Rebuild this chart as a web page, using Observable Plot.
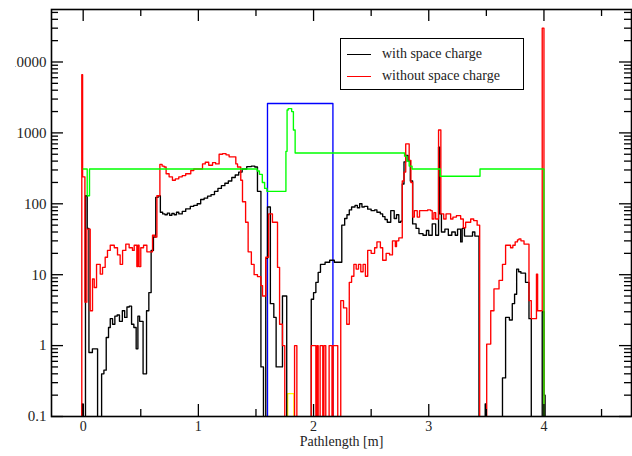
<!DOCTYPE html>
<html><head><meta charset="utf-8">
<script src="https://cdn.jsdelivr.net/npm/d3@7"></script>
<script src="https://cdn.jsdelivr.net/npm/@observablehq/plot@0.6"></script>
<style>
html,body{margin:0;padding:0;background:#fff;}
#wrap{position:relative;width:632px;height:456px;overflow:hidden;background:#fff;}
#chart{clip-path:inset(0 0 0 15px);}
#legend{position:absolute;left:340px;top:38px;width:184px;height:52px;border:1.3px solid #000;background:#fff;
  font-family:"Liberation Serif","Times New Roman","DejaVu Serif",serif;font-size:14px;box-sizing:border-box;color:#222;}
.row{position:absolute;left:6px;height:16px;display:flex;align-items:center;white-space:nowrap;}
.sw{display:inline-block;width:24px;height:0;border-top:1.4px solid;margin-right:11px;}
</style></head><body>
<div id="wrap"><div id="chart"></div>
<div id="legend">
  <div class="row" style="top:7px"><span class="sw" style="border-color:#000"></span><span id="l1"></span></div>
  <div class="row" style="top:29px"><span class="sw" style="border-color:#ff0000"></span><span id="l2"></span></div>
</div></div>
<script>
// ---- labels ----
const seriesNames = ["with space charge", "without space charge"];
const xTitle = "Pathlength [m]";
const xTickLabels = [0, 1, 2, 3, 4];
const xMinorTicks = [0.5, 1.5, 2.5, 3.5, 4.5];
const yTickLabels = [0.1, 1, 10, 100, 1000, 10000];

// ---- with space charge (black), bin left edges and counts ----
const blackX = [-0.01,0.0,0.02,0.035,0.05,0.08,0.125,0.16,0.18,0.2,
 0.22,0.235,0.255,0.275,0.295,0.315,0.34,0.36,0.38,0.40,
 0.42,0.44,0.46,0.475,0.49,0.52,0.55,0.57,0.59,0.61,
 0.63,0.65,0.67,0.69,0.71,0.73,0.75,0.77,0.79,0.81,
 0.83,0.86,0.89,0.93,0.96,0.99,1.02,1.05,1.08,1.11,
 1.14,1.17,1.2,1.23,1.26,1.29,1.32,1.35,1.38,1.42,
 1.46,1.49,1.513,1.543,1.565,1.585,1.60,1.625,1.655,1.675,
 1.73,1.767,1.98,2.0,2.02,2.04,2.06,2.1,2.14,2.18,
 2.22,2.245,2.27,2.29,2.31,2.33,2.36,2.38,2.40,2.42,
 2.44,2.47,2.50,2.53,2.55,2.58,2.60,2.62,2.64,2.67,
 2.70,2.72,2.74,2.757,2.77,2.785,2.80,2.82,2.84,2.86,
 2.89,2.915,2.95,2.98,3.0,3.03,3.06,3.085,3.095,3.11,
 3.14,3.17,3.2,3.23,3.25,3.277,3.29,3.31,3.35,3.38,
 3.40,3.436,3.49,3.50,3.64,3.667,3.70,3.725,3.745,3.763,
 3.78,3.80,3.84,3.87,3.89,3.985,4.0,4.01];
const blackV = [0.15,0,130,45,0.8,0.9,0,0.4,0.45,1.3,
 1.8,2.4,2.0,2.6,2.7,2.2,3.1,2.5,3.5,3.6,
 2.0,1.8,0.9,2.6,2.2,0.4,3.1,5.6,22,34,
 123,130,76,72,70,74,69,73,70,76,
 72,78,85,92,95,100,115,120,128,135,
 150,165,180,195,210,235,255,280,310,335,
 340,330,150,0.5,0,17,90,3.9,2.5,0.5,
 5,0,4.5,5.6,7.8,10.8,14,15,16,15,
 15,50,62,70,82,90,95,88,100,90,
 92,84,80,82,76,72,66,60,55,80,
 62,70,55,57,190,390,480,400,210,52,
 45,38,36,42,36,52,36,630,72,40,
 44,36,40,36,44,29,45,35,35,40,
 35,0,0.15,0,0.35,2.5,2.3,3.9,5.3,12,
 11,10.5,7.8,2.4,0,3,0.2,0];

// ---- without space charge (red) ----
const redX = [-0.012,-0.005,0.015,0.032,0.061,0.081,0.096,0.116,0.148,0.168,
 0.191,0.211,0.235,0.27,0.298,0.321,0.342,0.37,0.399,0.428,
 0.443,0.466,0.475,0.485,0.5,0.524,0.553,0.602,0.622,0.64,
 0.666,0.685,0.703,0.72,0.746,0.775,0.80,0.83,0.86,0.89,
 0.934,0.96,1.007,1.036,1.06,1.09,1.123,1.15,1.18,1.21,
 1.24,1.267,1.30,1.325,1.34,1.368,1.383,1.41,1.432,1.46,
 1.484,1.513,1.543,1.557,1.585,1.61,1.643,1.687,1.705,1.73,
 1.75,1.835,1.855,1.98,2.02,2.03,2.04,2.057,2.08,2.09,
 2.106,2.135,2.16,2.17,2.21,2.236,2.26,2.288,2.31,2.33,
 2.35,2.37,2.39,2.41,2.43,2.45,2.47,2.50,2.53,2.55,
 2.58,2.60,2.63,2.66,2.685,2.71,2.72,2.74,2.77,2.785,
 2.80,2.83,2.845,2.86,2.875,2.9,2.92,2.945,2.99,3.017,
 3.03,3.045,3.06,3.085,3.105,3.13,3.15,3.19,3.21,3.24,
 3.277,3.3,3.32,3.364,3.39,3.42,3.442,3.503,3.538,3.566,
 3.61,3.64,3.667,3.71,3.73,3.75,3.77,3.783,3.80,3.827,
 3.87,3.89,3.935,3.945,3.985,4.0];
const redV = [6600,240,4.1,44,3.1,8.7,6.6,14,10.2,12.7,
 17.6,22,26,24,19,14,22,27,24,22,
 26,13,26,13,24,26,21,36,34,130,
 360,340,330,265,240,215,225,240,250,265,
 295,310,310,365,385,350,380,365,500,510,
 490,460,460,365,330,215,107,55,21,14,
 10,9.4,7,5,17.6,72,55,12.7,2,1,
 0,1,0,1,0,1,0,1,0,1,
 0,1,0,1,0,4.3,3.4,2,7.8,9.5,
 14,12,14,11,14,9.5,22,20,24,29,
 24,16,20,19,30,25,30,33,210,280,
 700,410,200,65,80,65,80,80,82,80,
 61,75,61,1100,72,61,72,61,65,68,
 61,46,55,61,58,50,0,1.05,3.1,6.3,
 8.3,14,26,24,26,29,31,32,30,27,
 4.3,2.4,10.2,3.1,30000,0];

// ---- green ----
const greenX = [0.0,0.035,0.055,1.51,1.53,1.555,1.575,1.595,1.76,1.77,
 1.78,1.81,1.825,1.84,2.79,2.81,2.83,2.855,3.10,3.445,4.0];
const greenV = [310,130,310,290,260,200,165,150,550,2100,
 2200,2000,1100,520,470,400,340,310,245,310,0];

// ---- blue box and yellow bin ----
const blueX = [1.6, 2.168];
const blueV = [2600, 0];
const yellowX = [1.775, 1.83];
const yellowV = [0.21, 0];

document.getElementById("l1").textContent = seriesNames[0];
document.getElementById("l2").textContent = seriesNames[1];

const FLOOR = 0.05; // zero counts drawn below the axis floor (clipped)
function steps(xs, vs, lead) {
  const pts = lead ? [{x: xs[0], y: FLOOR}] : [];
  xs.forEach((x, i) => pts.push({x, y: vs[i] > 0 ? vs[i] : FLOOR}));
  return pts;
}

const W = 632, H = 456, mL = 51, mR = 1, mT = 9, mB = 40;
const pw = W - mL - mR, ph = H - mT - mB;
const yMinor = [];
for (let e = -1; e <= 4; e++) for (let m = 2; m <= 9; m++) {
  const v = m * Math.pow(10, e);
  if (v < 55000) yMinor.push(v);
}
const lw = 1.35;
const FONT = '"Liberation Serif", "Times New Roman", "DejaVu Serif", serif';
const chart = Plot.plot({
  width: W, height: H,
  marginLeft: mL, marginRight: mR, marginTop: mT, marginBottom: mB,
  style: {fontFamily: FONT, fontSize: "15px", background: "#fff", color: "#222"},
  x: {type: "linear", domain: [-0.275, 4.76]},
  y: {type: "log", domain: [0.1, 55000]},
  marks: [
    Plot.line(steps(blueX, blueV, true), {x: "x", y: "y", curve: "step-after", stroke: "#0000ff", strokeWidth: lw, clip: true}),
    Plot.line(steps(yellowX, yellowV, true), {x: "x", y: "y", curve: "step-after", stroke: "#ffff00", strokeWidth: lw, clip: true}),
    Plot.line(steps(blackX, blackV, true), {x: "x", y: "y", curve: "step-after", stroke: "#000", strokeWidth: lw, clip: true}),
    Plot.line(steps(redX, redV, true), {x: "x", y: "y", curve: "step-after", stroke: "#ff0000", strokeWidth: lw, clip: true}),
    Plot.line(steps(greenX, greenV, false), {x: "x", y: "y", curve: "step-after", stroke: "#00ff00", strokeWidth: lw, clip: true}),
    // inward ticks
    Plot.ruleX(xTickLabels, {x: d => d, insetTop: ph - 12, stroke: "#000", strokeWidth: 1.3}),
    Plot.ruleX(xTickLabels, {x: d => d, insetBottom: ph - 12, stroke: "#000", strokeWidth: 1.3}),
    Plot.ruleX(xMinorTicks, {x: d => d, insetTop: ph - 7, stroke: "#000", strokeWidth: 1.3}),
    Plot.ruleX(xMinorTicks, {x: d => d, insetBottom: ph - 7, stroke: "#000", strokeWidth: 1.3}),
    Plot.ruleY(yTickLabels, {y: d => d, insetRight: pw - 12, stroke: "#000", strokeWidth: 1.3}),
    Plot.ruleY(yTickLabels, {y: d => d, insetLeft: pw - 12, stroke: "#000", strokeWidth: 1.3}),
    Plot.ruleY(yMinor, {y: d => d, insetRight: pw - 7, stroke: "#000", strokeWidth: 1.3}),
    Plot.ruleY(yMinor, {y: d => d, insetLeft: pw - 7, stroke: "#000", strokeWidth: 1.3}),
    Plot.frame({stroke: "#000", strokeWidth: 1.6}),
    Plot.axisX({ticks: xTickLabels, tickSize: 0, tickPadding: 5, tickFormat: d => String(d), label: null, fontSize: 14}),
    Plot.axisY({ticks: yTickLabels, tickSize: 0, tickPadding: 5, tickFormat: d => String(d), label: null}),
    Plot.text([xTitle], {frameAnchor: "bottom", dy: 29, text: d => d, fontSize: 14, fill: "#222"})
  ]
});
document.getElementById("chart").appendChild(chart);
</script>
</body></html>
